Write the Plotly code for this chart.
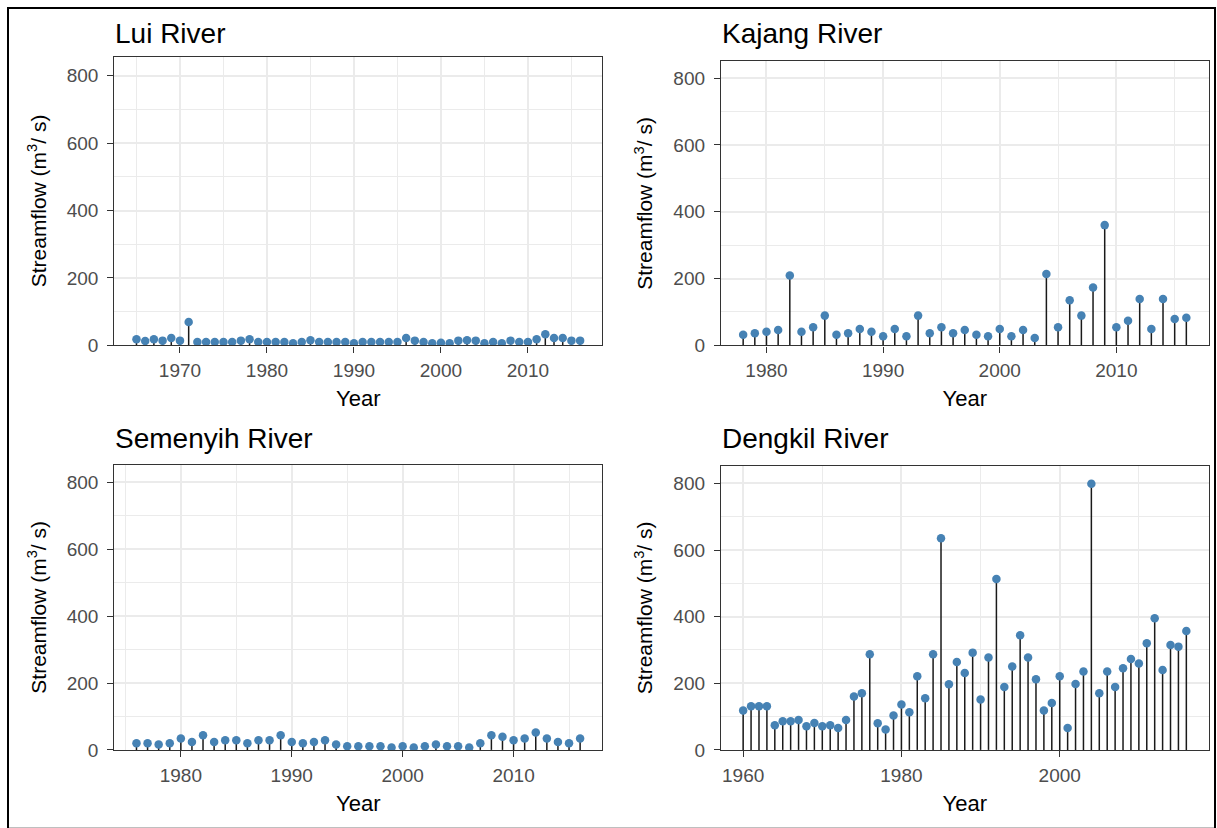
import plotly.graph_objects as go

W, H = 1217, 828

# ---------------- data ----------------
lui_years = list(range(1965, 2017))
lui_flow = [18, 13, 18, 14, 22, 14, 69, 10, 10, 10,
            10, 10, 14, 18, 10, 10, 10, 10, 6, 10,
            15, 10, 10, 10, 10, 6, 10, 10, 10, 10,
            10, 22, 14, 10, 6, 8, 6, 14, 15, 14,
            6, 10, 6, 14, 10, 10, 18, 33, 22, 22,
            14, 14]

kajang_years = list(range(1978, 2017))
kajang_flow = [32, 36, 41, 46, 209, 41, 54, 89, 32, 36,
               49, 41, 27, 49, 27, 89, 36, 54, 36, 46,
               32, 27, 49, 27, 46, 22, 214, 54, 135, 89,
               173, 360, 54, 74, 139, 49, 139, 79, 83]

semenyih_years = list(range(1976, 2017))
semenyih_flow = [20, 20, 16, 20, 34, 24, 44, 24, 29, 29,
                 20, 29, 29, 44, 24, 20, 24, 29, 16, 11,
                 11, 11, 11, 7, 11, 7, 11, 16, 11, 11,
                 7, 20, 44, 39, 29, 34, 52, 34, 24, 20, 34]

dengkil_years = list(range(1960, 2017))
dengkil_flow = [118, 131, 131, 131, 74, 86, 86, 90, 71, 81,
                71, 74, 66, 90, 160, 170, 287, 80, 61, 103,
                136, 113, 221, 155, 287, 635, 197, 264, 231, 292,
                151, 277, 513, 189, 250, 344, 277, 212, 118, 141,
                221, 66, 198, 235, 799, 170, 235, 189, 245, 273,
                259, 320, 395, 240, 315, 310, 357]

titles = ["Lui River", "Kajang River", "Semenyih River", "Dengkil River"]
y_ticks = [0, 200, 400, 600, 800]
x_ticks = [[1970, 1980, 1990, 2000, 2010],
           [1980, 1990, 2000, 2010],
           [1980, 1990, 2000, 2010],
           [1960, 1980, 2000]]

# ---------------- layout helpers (pixel boxes) ----------------
boxes = [  # x0, x1, ytop, ybottom in px
    (114.3, 602.3, 57.3, 350.0),
    (721.0, 1208.5, 62.3, 350.0),
    (114.3, 602.3, 471.0, 760.0),
    (721.0, 1208.5, 472.0, 760.0),
]
y_max = [857, 850, 853, 853]
series = [(lui_years, lui_flow), (kajang_years, kajang_flow),
          (semenyih_years, semenyih_flow), (dengkil_years, dengkil_flow)]

FONT = "Liberation Sans, Arial, sans-serif"
STEEL = "#4682B4"
GRID = "#EBEBEB"

fig = go.Figure()
annotations = []
layout_axes = {}

for i, ((yrs, vals), box) in enumerate(zip(series, boxes)):
    n = i + 1
    xa = "x" if n == 1 else f"x{n}"
    ya = "y" if n == 1 else f"y{n}"
    # stems built from the data
    sx, sy = [], []
    for yr, v in zip(yrs, vals):
        sx += [yr, yr, None]
        sy += [0, v, None]
    fig.add_trace(go.Scatter(x=sx, y=sy, mode="lines", xaxis=xa, yaxis=ya,
                             line=dict(color="#1a1a1a", width=1.5),
                             hoverinfo="skip", showlegend=False))
    fig.add_trace(go.Scatter(x=yrs, y=vals, mode="markers", xaxis=xa, yaxis=ya,
                             marker=dict(color=STEEL, size=8.5, line=dict(width=0)),
                             showlegend=False))

    x0, x1, yt, yb = box
    span = yrs[-1] - yrs[0]
    xr = [yrs[0] - 0.05 * span, yrs[-1] + 0.05 * span]
    xdt = x_ticks[i][1] - x_ticks[i][0]
    common = dict(showline=True, mirror=True, linecolor="#333333", linewidth=1.3,
                  ticks="outside", ticklen=6, tickwidth=1.2, tickcolor="#333333",
                  tickfont=dict(family=FONT, size=19, color="#4D4D4D"),
                  showgrid=True, gridcolor=GRID, gridwidth=1.5, zeroline=False)
    layout_axes["xaxis" if n == 1 else f"xaxis{n}"] = dict(
        common, domain=[x0 / W, x1 / W], anchor=ya, range=xr,
        tickmode="array", tickvals=x_ticks[i], ticklabelstandoff=2,
        minor=dict(showgrid=True, gridcolor=GRID, gridwidth=0.8,
                   tickmode="array",
                   tickvals=[t + xdt / 2 for t in [x_ticks[i][0] - xdt] + x_ticks[i]],
                   ticks=""),
        title=dict(text="Year", font=dict(family=FONT, size=22, color="black"),
                   standoff=10),
    )
    layout_axes["yaxis" if n == 1 else f"yaxis{n}"] = dict(
        common, domain=[1 - yb / H, 1 - yt / H], anchor=xa, range=[0, y_max[i]],
        tickmode="array", tickvals=y_ticks, ticklabelstandoff=5,
        minor=dict(showgrid=True, gridcolor=GRID, gridwidth=0.8,
                   tickmode="array", tickvals=[100, 300, 500, 700], ticks=""),
        title=dict(text="Streamflow (m<sup>3</sup>/ s)",
                   font=dict(family=FONT, size=21, color="black"), standoff=14),
    )
    annotations.append(dict(text=titles[i], xref="paper", yref="paper",
                            x=(x0 - 1) / W, y=1 - 34 / H if i < 2 else 1 - 444 / H,
                            xanchor="left", yanchor="middle", showarrow=False,
                            font=dict(family=FONT, size=28, color="black")))

fig.update_layout(
    width=W, height=H,
    margin=dict(l=0, r=0, t=0, b=0),
    paper_bgcolor="white", plot_bgcolor="white",
    annotations=annotations,
    shapes=[dict(type="rect", xref="paper", yref="paper",
                 x0=8 / W, x1=1215 / W, y0=1 - 840 / H, y1=1 - 8 / H,
                 line=dict(color="black", width=2))],
    **layout_axes,
)

fig.write_html("out.html")
